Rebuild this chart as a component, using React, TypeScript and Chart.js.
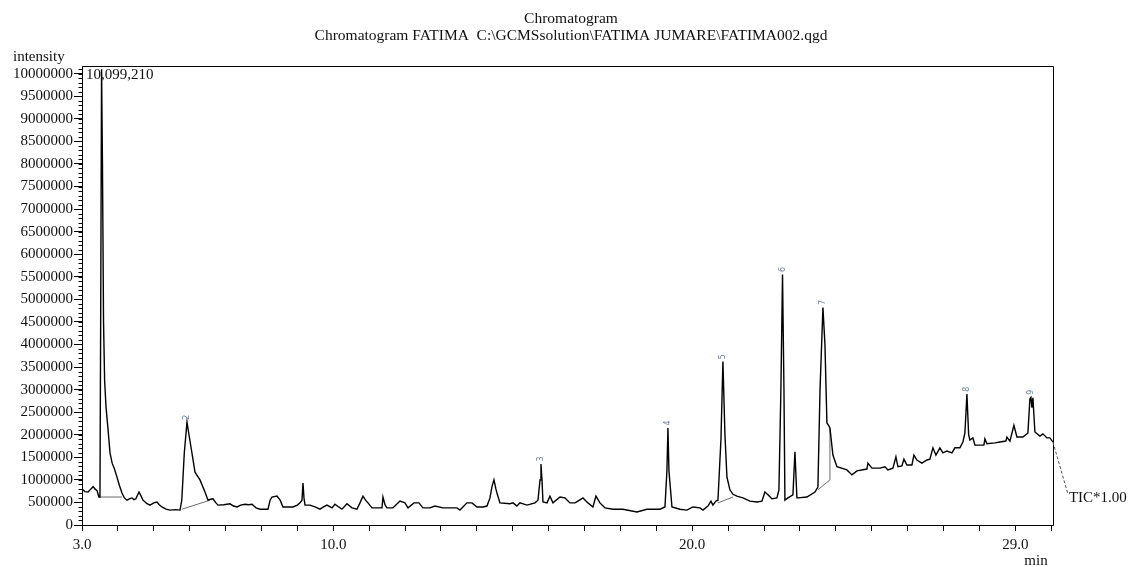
import React, { useEffect, useRef } from 'react';
import { Chart, registerables } from 'chart.js';

Chart.register(...registerables);

// ---- Data (retention time in min, intensity in counts) ----
const times = [
  3.0, 3.08, 3.17, 3.25, 3.31, 3.36, 3.42, 3.47, 3.5, 3.52, 3.545, 3.57, 3.6, 3.63, 3.67, 3.72, 3.78, 3.84, 3.9, 3.975,
  4.04, 4.114, 4.18, 4.253, 4.32, 4.393, 4.45, 4.5, 4.588, 4.64, 4.699, 4.8, 4.894, 5.0, 5.089, 5.15, 5.228, 5.34, 5.451, 5.6,
  5.73, 5.78, 5.85, 5.925, 5.98, 6.064, 6.148, 6.287, 6.426, 6.51, 6.58, 6.649, 6.72, 6.788, 6.95, 7.123, 7.22, 7.318, 7.42, 7.54,
  7.64, 7.735, 7.85, 7.958, 8.181, 8.24, 8.292, 8.432, 8.52, 8.599, 8.877, 9.0, 9.072, 9.128, 9.156, 9.184, 9.212, 9.351, 9.49, 9.63,
  9.73, 9.825, 9.964, 10.047, 10.15, 10.242, 10.382, 10.521, 10.66, 10.744, 10.827, 10.9, 10.967, 11.078, 11.357, 11.384, 11.44, 11.496, 11.663, 11.858,
  11.997, 12.081, 12.248, 12.387, 12.499, 12.694, 12.833, 13.056, 13.446, 13.529, 13.724, 13.864, 14.003, 14.17, 14.281, 14.365, 14.421, 14.476, 14.53, 14.56,
  14.643, 14.922, 15.006, 15.117, 15.201, 15.396, 15.619, 15.702, 15.76, 15.786, 15.814, 15.842, 15.953, 16.036, 16.12, 16.315, 16.454, 16.593, 16.733, 16.816,
  16.955, 17.095, 17.234, 17.318, 17.429, 17.568, 17.791, 18.07, 18.46, 18.738, 19.1, 19.24, 19.295, 19.323, 19.351, 19.435, 19.657, 19.852, 20.019, 20.214,
  20.298, 20.437, 20.521, 20.577, 20.66, 20.716, 20.8, 20.855, 20.911, 20.967, 21.05, 21.134, 21.245, 21.412, 21.607, 21.802, 21.942, 22.025, 22.109, 22.22,
  22.359, 22.415, 22.47, 22.515, 22.555, 22.582, 22.666, 22.805, 22.861, 22.916, 22.944, 23.195, 23.418, 23.501, 23.56, 23.641, 23.697, 23.752, 23.8, 23.836,
  23.919, 24.031, 24.309, 24.448, 24.588, 24.866, 24.894, 25.006, 25.228, 25.368, 25.451, 25.591, 25.674, 25.73, 25.841, 25.897, 25.981, 26.12, 26.175, 26.259,
  26.398, 26.538, 26.621, 26.705, 26.788, 26.9, 26.983, 27.095, 27.234, 27.318, 27.457, 27.54, 27.596, 27.652, 27.7, 27.735, 27.819, 27.875, 28.014, 28.125,
  28.153, 28.209, 28.432, 28.571, 28.738, 28.766, 28.85, 28.961, 29.045, 29.212, 29.351, 29.407, 29.435, 29.462, 29.49, 29.546, 29.685, 29.769, 29.88, 29.964,
  30.047,
];

const intensities = [
  800000, 740000, 730000, 800000, 850000, 800000, 760000, 620000, 620000, 4500000, 10099210, 8000000, 4500000, 3200000, 2600000, 2170000, 1600000, 1370000, 1250000, 1060000,
  880000, 710000, 600000, 550000, 580000, 600000, 560000, 580000, 730000, 650000, 550000, 480000, 440000, 490000, 510000, 450000, 400000, 350000, 330000, 340000,
  330000, 550000, 1600000, 2280000, 2000000, 1590000, 1170000, 1000000, 730000, 550000, 570000, 580000, 500000, 440000, 450000, 470000, 420000, 400000, 440000, 460000,
  450000, 460000, 380000, 350000, 350000, 550000, 620000, 640000, 550000, 400000, 400000, 440000, 490000, 550000, 930000, 600000, 440000, 440000, 400000, 350000,
  400000, 440000, 380000, 460000, 400000, 350000, 470000, 380000, 350000, 490000, 640000, 550000, 490000, 380000, 380000, 620000, 450000, 380000, 380000, 530000,
  490000, 380000, 490000, 490000, 380000, 380000, 420000, 380000, 380000, 330000, 490000, 490000, 400000, 400000, 420000, 600000, 850000, 1000000, 800000, 710000,
  490000, 470000, 490000, 420000, 490000, 440000, 490000, 550000, 1000000, 1350000, 1000000, 510000, 490000, 640000, 490000, 620000, 600000, 490000, 490000, 530000,
  600000, 490000, 400000, 640000, 490000, 380000, 350000, 350000, 290000, 350000, 350000, 400000, 1200000, 2150000, 1200000, 400000, 350000, 330000, 400000, 380000,
  330000, 420000, 530000, 440000, 530000, 550000, 1900000, 3620000, 2000000, 1060000, 780000, 680000, 640000, 600000, 530000, 510000, 530000, 730000, 670000, 580000,
  600000, 780000, 3000000, 5550000, 3000000, 550000, 600000, 670000, 1620000, 600000, 600000, 620000, 730000, 840000, 3000000, 4820000, 4000000, 2260000, 2200000, 2150000,
  1550000, 1290000, 1220000, 1110000, 1200000, 1240000, 1370000, 1260000, 1260000, 1290000, 1220000, 1260000, 1510000, 1290000, 1310000, 1460000, 1330000, 1330000, 1550000, 1440000,
  1370000, 1440000, 1460000, 1710000, 1550000, 1710000, 1600000, 1640000, 1600000, 1710000, 1710000, 1840000, 2040000, 2900000, 2000000, 1880000, 1930000, 1770000, 1770000, 1770000,
  1910000, 1800000, 1820000, 1840000, 1860000, 1950000, 1860000, 2210000, 1950000, 1950000, 2040000, 2800000, 2830000, 2600000, 2820000, 2060000, 1970000, 2020000, 1930000, 1930000,
  1840000,
];

// Integration baselines drawn under some peaks
const baseline1Times = [3.47, 4.114];
const baseline1Values = [620000, 620000];
const baseline2Times = [5.786, 6.565];
const baseline2Values = [350000, 550000];
const baseline5Times = [20.716, 21.134];
const baseline5Values = [490000, 620000];
const baseline7Times = [23.501, 23.836, 23.836];
const baseline7Values = [780000, 1000000, 2150000];

// Peak labels
const peakNumbers = [2, 3, 4, 5, 6, 7, 8, 9];
const peakTimes = [5.925, 15.786, 19.323, 20.855, 22.515, 23.641, 27.652, 29.435];

// Axes
const xMin = 3.0;
const xMax = 30.05;
const xTickValues = [3, 4, 5, 6, 7, 8, 9, 10, 11, 12, 13, 14, 15, 16, 17, 18, 19, 20, 21, 22, 23, 24, 25, 26, 27, 28, 29, 30];
const xLabeledTicks = [3, 10, 20, 29];
const yMax = 10170000;
const yTickValues = [0, 500000, 1000000, 1500000, 2000000, 2500000, 3000000, 3500000, 4000000, 4500000, 5000000, 5500000, 6000000, 6500000, 7000000, 7500000, 8000000, 8500000, 9000000, 9500000, 10000000];
const yMinorStep = 100000;

// Texts
const titleLines = ['Chromatogram', 'Chromatogram FATIMA  C:\\GCMSsolution\\FATIMA JUMARE\\FATIMA002.qgd'];
const yAxisTitle = 'intensity';
const xAxisTitle = 'min';
const maxLabel = '10,099,210';
const ticLabel = 'TIC*1.00';

const FONT = '"Liberation Serif", "Times New Roman", serif';

const toPoints = (xs: number[], ys: number[]) => xs.map((x, i) => ({ x, y: ys[i] }));

const decorPlugin = {
  id: 'decor',
  afterDraw(chart: any) {
    const { ctx, chartArea: a, scales } = chart;
    const xs = scales.x;
    const ys = scales.y;
    ctx.save();
    // frame
    ctx.strokeStyle = '#000';
    ctx.lineWidth = 1;
    const l = Math.round(a.left) + 0.5;
    const t = Math.round(a.top) + 0.5;
    const r = Math.round(a.right) + 0.5;
    const b = Math.round(a.bottom) + 0.5;
    ctx.beginPath();
    ctx.moveTo(l, b);
    ctx.lineTo(l, t);
    ctx.lineTo(r, t);
    ctx.lineTo(r, b);
    ctx.lineTo(l, b);
    ctx.stroke();
    // minor y ticks
    ctx.beginPath();
    for (let v = 0; v <= yMax; v += yMinorStep) {
      const py = Math.round(ys.getPixelForValue(v)) + 0.5;
      ctx.moveTo(l - 4, py);
      ctx.lineTo(l, py);
    }
    ctx.stroke();

    // titles
    ctx.fillStyle = '#111';
    ctx.font = `15.5px ${FONT}`;
    ctx.textAlign = 'center';
    ctx.textBaseline = 'middle';
    const cx = 571;
    ctx.fillText(titleLines[0], cx, 19);
    ctx.fillText(titleLines[1], cx, 36);

    // axis titles
    ctx.font = `15px ${FONT}`;
    ctx.textAlign = 'left';
    ctx.fillText(yAxisTitle, 13, 57);
    ctx.textAlign = 'center';
    ctx.fillText(xAxisTitle, 1036, 561);

    // max intensity label
    ctx.textAlign = 'left';
    ctx.fillText(maxLabel, a.left + 4, a.top + 9);

    // peak labels
    ctx.fillStyle = '#6f82a3';
    ctx.font = '8px "DejaVu Sans", sans-serif';
    peakNumbers.forEach((n, i) => {
      const tm = peakTimes[i];
      const idx = times.indexOf(tm);
      const v = intensities[idx];
      const px = xs.getPixelForValue(tm);
      const py = ys.getPixelForValue(v);
      ctx.save();
      ctx.translate(px, py - 5);
      ctx.rotate(-Math.PI / 2);
      ctx.textAlign = 'center';
      ctx.textBaseline = 'middle';
      ctx.fillText(String(n), 0, 0);
      ctx.restore();
    });

    // TIC dashed leader + label
    const lastT = times[times.length - 1];
    const lastV = intensities[intensities.length - 1];
    const sx = xs.getPixelForValue(lastT);
    const sy = ys.getPixelForValue(lastV);
    ctx.strokeStyle = '#555';
    ctx.setLineDash([3, 2]);
    ctx.beginPath();
    ctx.moveTo(sx, sy);
    ctx.lineTo(sx + 15, sy + 52);
    ctx.stroke();
    ctx.setLineDash([]);
    ctx.fillStyle = '#111';
    ctx.font = `15px ${FONT}`;
    ctx.textAlign = 'left';
    ctx.textBaseline = 'middle';
    ctx.fillText(ticLabel, sx + 16, sy + 56);
    ctx.restore();
  },
};

export default function App() {
  const canvasRef = useRef<HTMLCanvasElement | null>(null);

  useEffect(() => {
    document.body.style.margin = '0';
    document.body.style.overflow = 'hidden';
    const canvas = canvasRef.current;
    if (!canvas) return;
    const baselineStyle = {
      borderColor: '#6a6a6a',
      borderWidth: 1,
      pointRadius: 0,
      tension: 0,
      fill: false,
    };
    const chart = new Chart(canvas, {
      type: 'line',
      data: {
        datasets: [
          {
            data: toPoints(times, intensities),
            borderColor: '#000',
            borderWidth: 1.4,
            pointRadius: 0,
            tension: 0,
            fill: false,
          },
          { data: toPoints(baseline1Times, baseline1Values), ...baselineStyle },
          { data: toPoints(baseline2Times, baseline2Values), ...baselineStyle },
          { data: toPoints(baseline5Times, baseline5Values), ...baselineStyle },
          { data: toPoints(baseline7Times, baseline7Values), ...baselineStyle },
        ],
      },
      options: {
        responsive: false,
        animation: false,
        devicePixelRatio: 1,
        parsing: false,
        layout: { padding: { left: 0, right: 78, top: 66, bottom: 0 } },
        plugins: {
          legend: { display: false },
          tooltip: { enabled: false },
          title: { display: false },
        },
        scales: {
          x: {
            type: 'linear',
            min: xMin,
            max: xMax,
            afterBuildTicks: (s: any) => {
              s.ticks = xTickValues.map((v) => ({ value: v }));
            },
            afterFit: (s: any) => {
              s.height = 42;
            },
            grid: { display: true, drawOnChartArea: false, drawTicks: true, tickLength: 6, color: '#000', lineWidth: 1 },
            border: { display: false },
            ticks: {
              autoSkip: false,
              maxRotation: 0,
              minRotation: 0,
              padding: 5,
              color: '#111',
              font: { family: FONT, size: 15 },
              callback: (v: any) => (xLabeledTicks.includes(Number(v)) ? Number(v).toFixed(1) : ''),
            },
          },
          y: {
            type: 'linear',
            min: 0,
            max: yMax,
            afterBuildTicks: (s: any) => {
              s.ticks = yTickValues.map((v) => ({ value: v }));
            },
            afterFit: (s: any) => {
              s.width = 82;
            },
            grid: { display: true, drawOnChartArea: false, drawTicks: true, tickLength: 8, color: '#000', lineWidth: 1 },
            border: { display: false },
            ticks: {
              autoSkip: false,
              padding: 1,
              color: '#111',
              font: { family: FONT, size: 15 },
              callback: (v: any) => String(v),
            },
          },
        },
      } as any,
      plugins: [decorPlugin],
    });
    return () => chart.destroy();
  }, []);

  return (
    <div style={{ position: 'absolute', left: 0, top: 0, width: 1131, height: 567, background: '#fff' }}>
      <canvas ref={canvasRef} width={1131} height={567} style={{ display: 'block', width: 1131, height: 567 }} />
    </div>
  );
}
